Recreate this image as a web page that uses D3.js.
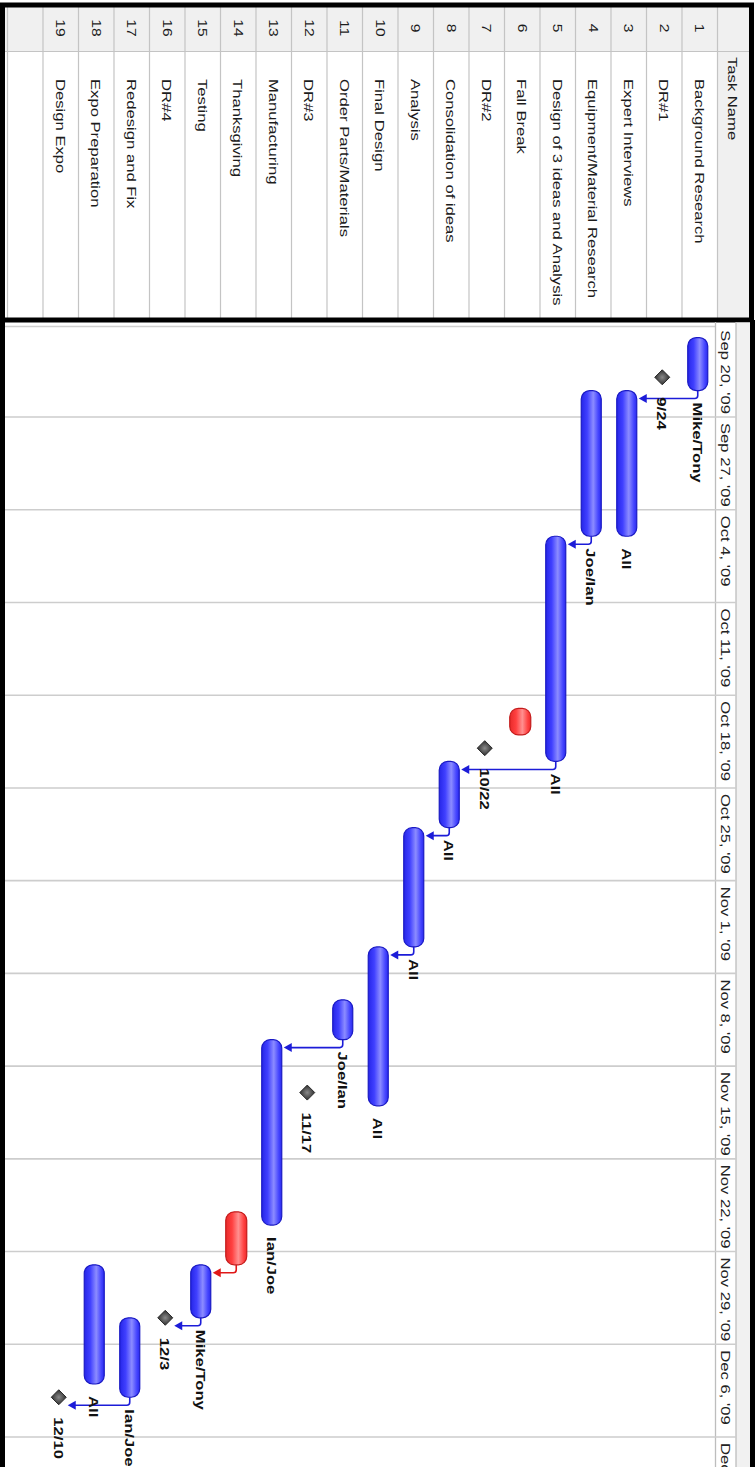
<!DOCTYPE html>
<html><head><meta charset="utf-8">
<script src="https://cdn.jsdelivr.net/npm/d3@7"></script>
<style>html,body{margin:0;padding:0;background:#fff;} svg{display:block;}</style>
</head><body>
<svg id="c" width="755" height="1467"></svg>
<script>
// ---------- data ----------
const taskIds = d3.range(1, 20);
const taskNames = ["Background Research","DR#1","Expert Interviews","Equipment/Material Research",
  "Design of 3 ideas and Analysis","Fall Break","DR#2","Consolidation of ideas","Analysis",
  "Final Design","Order Parts/Materials","DR#3","Manufacturing","Thanksgiving","Testing","DR#4",
  "Redesign and Fix","Expo Preparation","Design Expo"];
const taskTypes = ["task","milestone","task","task","task","break","milestone","task","task",
  "task","task","milestone","task","break","task","milestone","task","task","milestone"];
const taskStarts = ["2009-09-21","2009-09-24","2009-09-25","2009-09-25","2009-10-06","2009-10-19",
  "2009-10-22","2009-10-23","2009-10-28","2009-11-06","2009-11-10","2009-11-17","2009-11-13",
  "2009-11-26","2009-11-30","2009-12-04","2009-12-04","2009-11-30","2009-12-10"];
const taskEnds = ["2009-09-25","2009-09-24","2009-10-06","2009-10-06","2009-10-23","2009-10-21",
  "2009-10-22","2009-10-28","2009-11-06","2009-11-18","2009-11-13","2009-11-17","2009-11-27",
  "2009-11-30","2009-12-04","2009-12-04","2009-12-10","2009-12-09","2009-12-10"];
const taskLabels = ["Mike/Tony","9/24","All","Joe/Ian","All","","10/22","All","All","All",
  "Joe/Ian","11/17","Ian/Joe","","Mike/Tony","12/3","Ian/Joe","All","12/10"];
const linkFrom = [1, 4, 5, 8, 9, 11, 14, 15, 17];
const linkTo   = [3, 5, 8, 9, 10, 13, 15, 16, 19];
const weekStarts = ["2009-09-20","2009-09-27","2009-10-04","2009-10-11","2009-10-18","2009-10-25",
  "2009-11-01","2009-11-08","2009-11-15","2009-11-22","2009-11-29","2009-12-06","2009-12-13"];
const weekLabels = ["Sep 20, '09","Sep 27, '09","Oct 4, '09","Oct 11, '09","Oct 18, '09","Oct 25, '09",
  "Nov 1, '09","Nov 8, '09","Nov 15, '09","Nov 22, '09","Nov 29, '09","Dec 6, '09","Dec 13, '09"];

// ---------- scales ----------
const parse = d3.utcParse("%Y-%m-%d");
const time = d3.scaleUtc().domain([parse("2009-09-20"), parse("2009-12-13")]).range([324.3, 1437]);
const row = d3.scaleBand().domain(d3.range(1, 21)).range([717.5, 7.5]);
const rowC = i => row(i) + row.bandwidth() / 2;
const ganttC = i => rowC(i) - 2;

const svg = d3.select("#c");
const FONT = "'Liberation Sans', Arial, sans-serif";
const SX = 1.28;

function rtext(sel, x, y, str, o = {}) {
  const g = sel.append("g").attr("transform", `translate(${x},${y}) rotate(90) scale(${o.sx || SX},1)`);
  return g.append("text").text(str)
    .attr("font-family", FONT).attr("font-size", o.size || 13)
    .attr("font-weight", o.weight || "normal")
    .attr("fill", o.fill || "#1c1c1c")
    .attr("text-anchor", o.anchor || "start")
    .attr("dominant-baseline", "central");
}

// ---------- defs ----------
const defs = svg.append("defs");
function grad(id, stops) {
  const g = defs.append("linearGradient").attr("id", id).attr("x1", 0).attr("x2", 1).attr("y1", 0).attr("y2", 0);
  stops.forEach(([o, c]) => g.append("stop").attr("offset", o).attr("stop-color", c));
}
grad("blueG", [[0, "#2626e8"], [0.3, "#4040ff"], [0.6, "#8c8cff"], [0.85, "#4646ff"], [1, "#2a2aee"]]);
grad("redG", [[0, "#e82a2a"], [0.3, "#ff4040"], [0.6, "#ff9090"], [0.85, "#ff4444"], [1, "#ee2a2a"]]);
const rg = defs.append("radialGradient").attr("id", "diaG");
rg.append("stop").attr("offset", 0).attr("stop-color", "#8a8a8a");
rg.append("stop").attr("offset", 1).attr("stop-color", "#2e2e2e");

// ---------- table ----------
const table = svg.append("g");
table.append("rect").attr("x", 5).attr("y", 5).attr("width", 745).attr("height", 313).attr("fill", "#fff");
table.append("rect").attr("x", row(1) + row.bandwidth()).attr("y", 5)
  .attr("width", 750 - row(1) - row.bandwidth()).attr("height", 313).attr("fill", "#f0f0f0");
table.append("rect").attr("x", 5).attr("y", 5).attr("width", row(1) + row.bandwidth() - 5)
  .attr("height", 46).attr("fill", "#f0f0f0");
d3.range(1, 21).forEach(i => {
  table.append("line").attr("x1", row(i)).attr("x2", row(i)).attr("y1", 5).attr("y2", 318)
    .attr("stroke", "#c4c4c4").attr("stroke-width", 1.2);
});
table.append("line").attr("x1", row(1) + row.bandwidth()).attr("x2", row(1) + row.bandwidth())
  .attr("y1", 5).attr("y2", 318).attr("stroke", "#c4c4c4").attr("stroke-width", 1.2);
table.append("line").attr("x1", 5).attr("x2", 750).attr("y1", 51.5).attr("y2", 51.5)
  .attr("stroke", "#c4c4c4").attr("stroke-width", 1.2);

rtext(table, row(1) + row.bandwidth() + 15, 57, "Task Name", { size: 13 });
taskIds.forEach((id, k) => {
  rtext(table, rowC(id), 28, String(id), { anchor: "middle", sx: 1.2 });
  rtext(table, rowC(id), 79, taskNames[k]);
});
table.append("rect").attr("x", 2.5).attr("y", 5).attr("width", 749).attr("height", 315)
  .attr("fill", "none").attr("stroke", "#000").attr("stroke-width", 5);

// ---------- gantt frame ----------
const gantt = svg.append("g");
gantt.append("rect").attr("x", 736).attr("y", 322.5).attr("width", 14).attr("height", 1145).attr("fill", "#f1f1f1");
gantt.append("line").attr("x1", 5).attr("x2", 715).attr("y1", 326.5).attr("y2", 326.5)
  .attr("stroke", "#cfcfcf").attr("stroke-width", 1.5);
gantt.append("line").attr("x1", 715.5).attr("x2", 715.5).attr("y1", 322).attr("y2", 1467)
  .attr("stroke", "#bdbdbd").attr("stroke-width", 1.3);
gantt.append("line").attr("x1", 736).attr("x2", 736).attr("y1", 322).attr("y2", 1467)
  .attr("stroke", "#bdbdbd").attr("stroke-width", 1.3);
weekStarts.forEach((w, k) => {
  const y = time(parse(w));
  if (k > 0) {
    gantt.append("line").attr("x1", 5).attr("x2", 736).attr("y1", y).attr("y2", y)
      .attr("stroke", "#cdcdcd").attr("stroke-width", 1.6);
  }
  rtext(gantt, 726, y + 6, weekLabels[k], { fill: "#222" });
});
gantt.append("line").attr("x1", 2.5).attr("x2", 2.5).attr("y1", 320).attr("y2", 1467).attr("stroke", "#000").attr("stroke-width", 5);
gantt.append("line").attr("x1", 752.5).attr("x2", 752.5).attr("y1", 320).attr("y2", 1467).attr("stroke", "#000").attr("stroke-width", 5);

// ---------- links ----------
const links = svg.append("g");
linkFrom.forEach((f, k) => {
  const t = linkTo[k];
  const fi = f - 1, ti = t - 1;
  const red = taskTypes[fi] === "break";
  const col = red ? "#e01818" : "#1c1cd8";
  const sx = ganttC(f), sy = time(parse(taskEnds[fi]));
  const ly = sy + 8;
  const tip = taskTypes[ti] === "milestone" ? ganttC(t) + 9 : ganttC(t) + 12;
  links.append("path").attr("d", `M${sx},${sy} L${sx},${ly - 3} Q${sx},${ly} ${sx - 3},${ly} L${tip + 6},${ly}`)
    .attr("fill", "none").attr("stroke", col).attr("stroke-width", 1.6);
  links.append("path").attr("d", `M${tip},${ly} L${tip + 8},${ly - 4.5} L${tip + 8},${ly + 4.5} Z`).attr("fill", col);
});

// ---------- bars & milestones ----------
const marks = svg.append("g");
taskIds.forEach((id, k) => {
  const c = ganttC(id);
  const type = taskTypes[k];
  if (type === "milestone") {
    const y = time(parse(taskStarts[k]));
    marks.append("path").attr("d", `M${c},${y - 7.5} L${c + 7.5},${y} L${c},${y + 7.5} L${c - 7.5},${y} Z`)
      .attr("fill", "url(#diaG)").attr("stroke", "#2a2a2a").attr("stroke-width", 1);
    rtext(marks, c, y + 20, taskLabels[k], { weight: "bold", fill: "#111" });
  } else {
    const y0 = time(parse(taskStarts[k])), y1 = time(parse(taskEnds[k]));
    const w = type === "break" ? 21 : 20;
    marks.append("rect").attr("x", c - w / 2).attr("y", y0).attr("width", w).attr("height", y1 - y0)
      .attr("rx", 8.5).attr("ry", 8.5)
      .attr("fill", type === "break" ? "url(#redG)" : "url(#blueG)")
      .attr("stroke", type === "break" ? "#c41c1c" : "#1a1ac4").attr("stroke-width", 1.2);
    if (taskLabels[k]) rtext(marks, c, y1 + 12, taskLabels[k], { weight: "bold", fill: "#111" });
  }
});
</script>
</body></html>
